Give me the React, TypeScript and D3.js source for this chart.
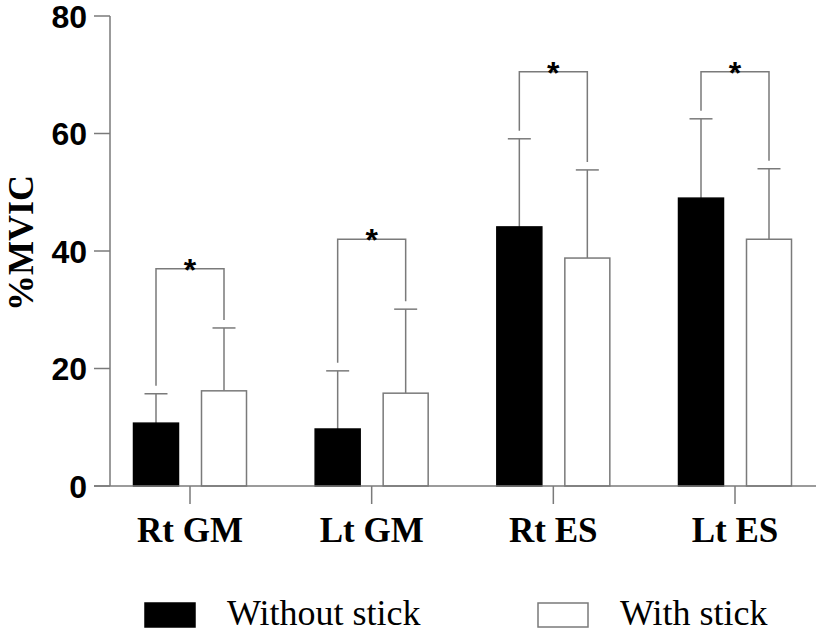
import React from "react";
import * as d3 from "d3";

const categories = ["Rt GM", "Lt GM", "Rt ES", "Lt ES"];
const seriesNames = ["Without stick", "With stick"];
const withoutMean = [10.7, 9.7, 44.1, 49.0];
const withoutSD = [5.0, 9.9, 15.0, 13.5];
const withMean = [16.2, 15.8, 38.8, 42.0];
const withSD = [10.7, 14.3, 15.0, 12.0];
const bracketLevel = [37.0, 42.0, 70.5, 70.5];
const yTicks = [0, 20, 40, 60, 80];

const W = 827;
const H = 633;
const GREY = "#7a7a7a";

export default function App() {
  const y = d3.scaleLinear().domain([0, 80]).range([486, 16]);
  const x = d3.scalePoint<string>().domain(categories).range([190, 735]);
  const off = 34;
  const bw = 45;
  const series = [
    { mean: withoutMean, sd: withoutSD, fill: "#000", dx: -off },
    { mean: withMean, sd: withSD, fill: "#fff", dx: off },
  ];
  const capW = 23;
  const gap = 8;
  const serif = "'Liberation Serif', 'Times New Roman', serif";
  const sans = "'Liberation Sans', Arial, sans-serif";

  return (
    <svg width={W} height={H} style={{ position: "absolute", left: 0, top: 0, background: "#fff" }}>
      {/* y axis */}
      <line x1={110} x2={110} y1={y(80)} y2={y(0)} stroke={GREY} strokeWidth={1.5} />
      {yTicks.map((t) => (
        <g key={t}>
          <line x1={94} x2={110} y1={y(t)} y2={y(t)} stroke={GREY} strokeWidth={1.5} />
          <text
            x={87}
            y={y(t)}
            dy="0.36em"
            textAnchor="end"
            fontFamily={sans}
            fontWeight="bold"
            fontSize={32}
            fill="#000"
          >
            {t}
          </text>
        </g>
      ))}
      <text
        transform={`translate(33,243) rotate(-90)`}
        textAnchor="middle"
        fontFamily={serif}
        fontWeight="bold"
        fontSize={36}
        fill="#000"
      >
        %MVIC
      </text>

      {/* error bars */}
      {series.map((s, si) =>
        categories.map((c, i) => {
          const cx = (x(c) as number) + s.dx;
          const top = y(s.mean[i] + s.sd[i]);
          return (
            <g key={`e${si}-${i}`}>
              <line x1={cx} x2={cx} y1={y(s.mean[i])} y2={top} stroke={GREY} strokeWidth={1.5} />
              <line x1={cx - capW / 2} x2={cx + capW / 2} y1={top} y2={top} stroke={GREY} strokeWidth={1.5} />
            </g>
          );
        })
      )}

      {/* bars */}
      {series.map((s, si) =>
        categories.map((c, i) => {
          const cx = (x(c) as number) + s.dx;
          return (
            <rect
              key={`b${si}-${i}`}
              x={cx - bw / 2}
              y={y(s.mean[i])}
              width={bw}
              height={y(0) - y(s.mean[i])}
              fill={s.fill}
              stroke={si === 0 ? "#000" : GREY}
              strokeWidth={1.5}
            />
          );
        })
      )}

      {/* brackets */}
      {categories.map((c, i) => {
        const lx = (x(c) as number) - off;
        const rx = (x(c) as number) + off;
        const by = y(bracketLevel[i]);
        const ly = y(withoutMean[i] + withoutSD[i]) - gap;
        const ry = y(withMean[i] + withSD[i]) - gap;
        return (
          <g key={`br${i}`}>
            <path
              d={`M${lx},${ly}V${by}H${rx}V${ry}`}
              fill="none"
              stroke={GREY}
              strokeWidth={1.5}
            />
            <text
              x={(lx + rx) / 2}
              y={by + 12}
              textAnchor="middle"
              fontFamily={sans}
              fontWeight="bold"
              fontSize={32}
              fill="#000"
            >
              *
            </text>
          </g>
        );
      })}

      {/* x axis */}
      <line x1={94} x2={816} y1={y(0)} y2={y(0)} stroke={GREY} strokeWidth={1.5} />
      {categories.map((c) => (
        <g key={c}>
          <line x1={x(c)} x2={x(c)} y1={y(0)} y2={y(0) + 18} stroke={GREY} strokeWidth={1.5} />
          <text
            x={x(c)}
            y={542}
            textAnchor="middle"
            fontFamily={serif}
            fontWeight="bold"
            fontSize={35}
            fill="#000"
          >
            {c}
          </text>
        </g>
      ))}

      {/* legend */}
      {seriesNames.map((n, i) => {
        const lx = i === 0 ? 145 : 538;
        return (
          <g key={n}>
            <rect
              x={lx}
              y={603}
              width={50}
              height={24}
              fill={i === 0 ? "#000" : "#fff"}
              stroke={i === 0 ? "#000" : GREY}
              strokeWidth={1.5}
            />
            <text x={lx + 82} y={625} fontFamily={serif} fontSize={36} fill="#000">
              {n}
            </text>
          </g>
        );
      })}
    </svg>
  );
}
